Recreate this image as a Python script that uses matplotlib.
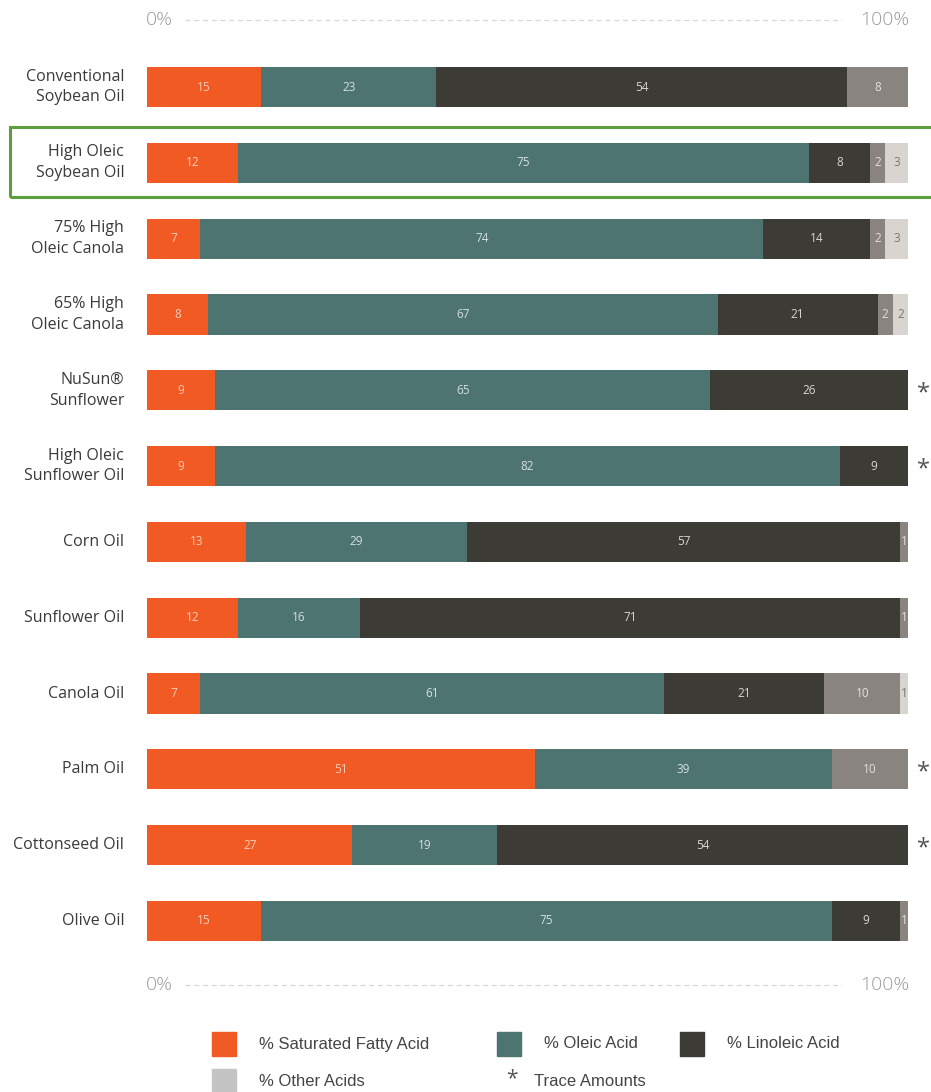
import matplotlib
matplotlib.use("Agg")
import matplotlib.pyplot as plt
from matplotlib.patches import Rectangle
from matplotlib.lines import Line2D

categories = ["Conventional\nSoybean Oil", "High Oleic\nSoybean Oil", "75% High\nOleic Canola",
              "65% High\nOleic Canola", "NuSun®\nSunflower", "High Oleic\nSunflower Oil",
              "Corn Oil", "Sunflower Oil", "Canola Oil", "Palm Oil", "Cottonseed Oil", "Olive Oil"]
saturated = [15, 12, 7, 8, 9, 9, 13, 12, 7, 51, 27, 15]
oleic     = [23, 75, 74, 67, 65, 82, 29, 16, 61, 39, 19, 75]
linoleic  = [54, 8, 14, 21, 26, 9, 57, 71, 21, 0, 54, 9]
other_a   = [8, 2, 2, 2, 0, 0, 1, 1, 10, 10, 0, 1]
other_b   = [0, 3, 3, 2, 0, 0, 0, 0, 1, 0, 0, 0]
trace     = [False, False, False, False, True, True, False, False, False, True, True, False]

series = [saturated, oleic, linoleic, other_a, other_b]
colors = ["#F15A22", "#4E7472", "#3C3B35", "#8A8480", "#D9D4CF"]
txtcol = ["#F6CDBB", "#D2E0DE", "#D8D6D0", "#E4E0DC", "#7A7672"]

legend_labels = ["% Saturated Fatty Acid", "% Oleic Acid", "% Linoleic Acid", "% Other Acids"]
legend_colors = ["#F15A22", "#4E7472", "#3C3B35", "#C4C4C4"]

W, H = 931, 1092
fig = plt.figure(figsize=(W / 100, H / 100), dpi=100)
plt.rcParams['font.family'] = ['Open Sans', 'DejaVu Sans']

def fx(px):
    return px / W

def fy(py):
    return 1 - py / H

top_px, bot_px = 49.1, 958.9
ax = fig.add_axes([fx(147), fy(bot_px), fx(908) - fx(147), (bot_px - top_px) / H])
n = len(categories)
ax.set_xlim(0, 100)
ax.set_ylim(n - 0.5, -0.5)
ax.axis("off")

for i in range(n):
    left = 0
    for s, vals in enumerate(series):
        v = vals[i]
        if v <= 0:
            continue
        ax.barh(i, v, left=left, height=0.53, color=colors[s], edgecolor="none")
        ax.text(left + v / 2, i, str(v), ha="center", va="center", fontsize=8.5,
                color=txtcol[s])
        left += v
    if trace[i]:
        ax.text(102, i + 0.04, "*", ha="center", va="center", fontsize=17, color="#555555",
                clip_on=False)
    ax.text(-3, i, categories[i], ha="right", va="center", fontsize=11.5,
            color="#3A3A3A", linespacing=1.4, clip_on=False)

fig.patches.append(Rectangle((fx(10), fy(197)), fx(935) - fx(10), (197 - 127) / H,
                             transform=fig.transFigure, fill=False,
                             edgecolor="#5B9E3B", linewidth=2.2))

for py in (20, 985):
    fig.text(fx(146), fy(py), "0%", ha="left", va="center", fontsize=14,
             color="#9A9A9A", fontweight="light")
    fig.text(fx(909), fy(py), "100%", ha="right", va="center", fontsize=14,
             color="#9A9A9A", fontweight="light")
    fig.lines.append(Line2D([fx(185), fx(842)], [fy(py), fy(py)], transform=fig.transFigure,
                            color="#D8D8D8", linewidth=0.9, linestyle=(0, (4, 3))))

leg_font = ['Liberation Sans', 'DejaVu Sans']
leg_pos = [(212, 1044), (497, 1044), (680, 1044), (212, 1081)]
for (x, y), lab, c in zip(leg_pos, legend_labels, legend_colors):
    fig.patches.append(Rectangle((fx(x), fy(y + 12)), 24 / W, 24 / H,
                                 transform=fig.transFigure, color=c))
    fig.text(fx(x + 47), fy(y), lab, ha="left", va="center", fontsize=12,
             color="#444444", family=leg_font)
fig.text(fx(512), fy(1079), "*", ha="center", va="center", fontsize=15, color="#555555")
fig.text(fx(534), fy(1082), "Trace Amounts", ha="left", va="center", fontsize=12,
         color="#444444", family=leg_font)

fig.savefig("out.png", dpi=100)
